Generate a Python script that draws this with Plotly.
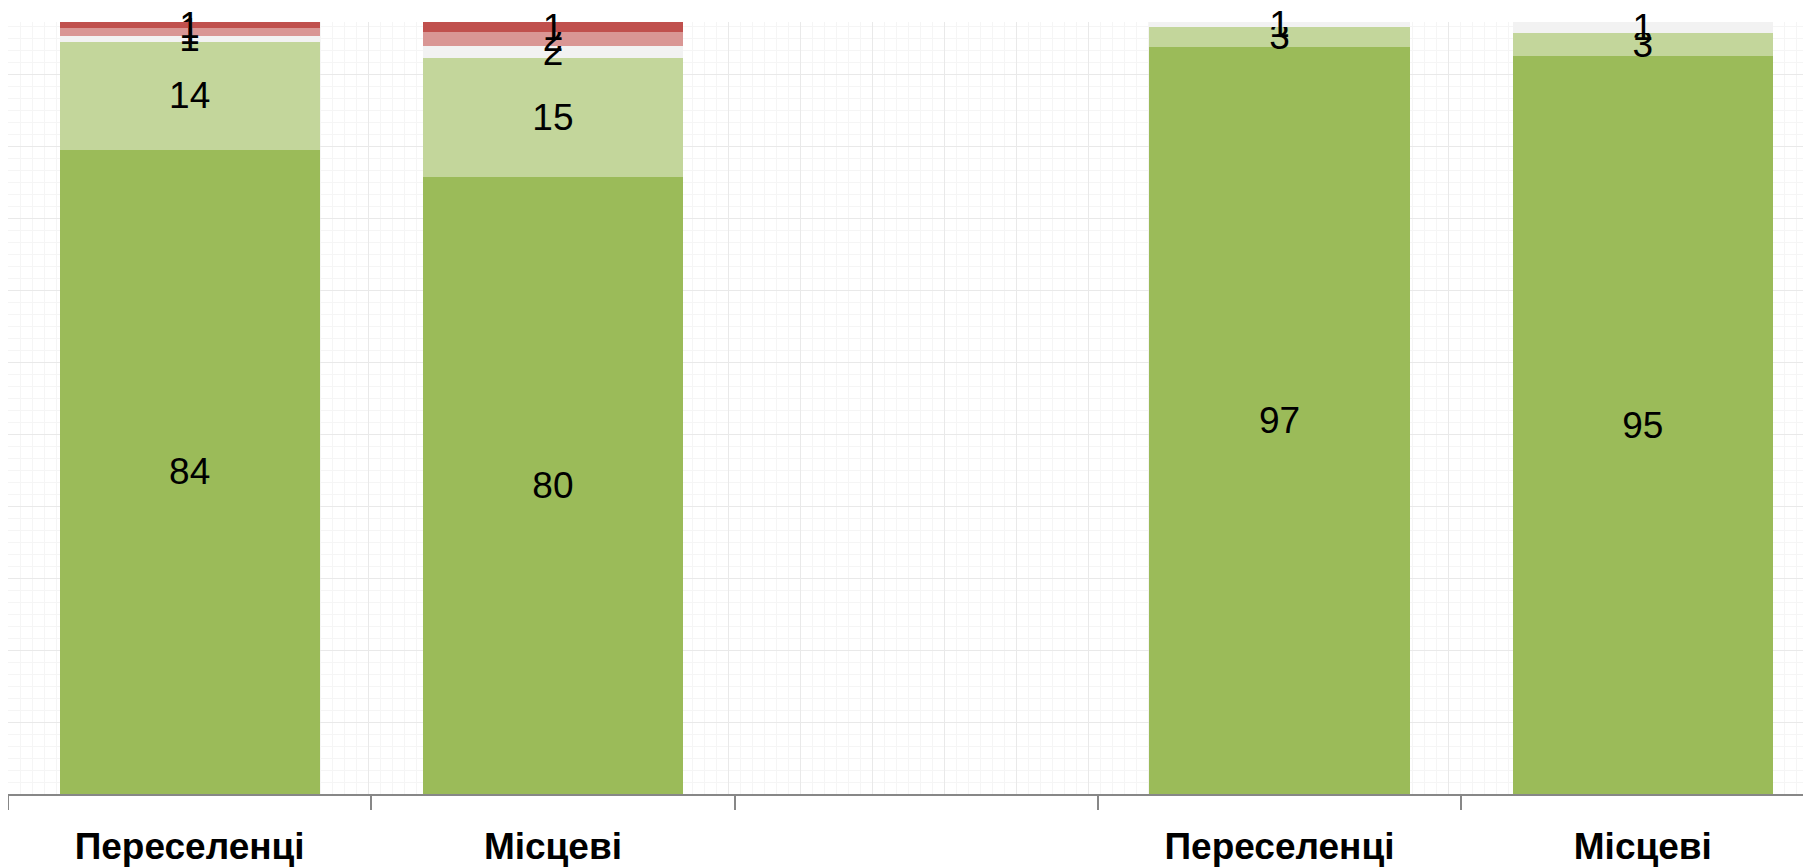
import plotly.graph_objects as go

# Categories (the empty one separates the two groups)
categories = ["Переселенці", "Місцеві", " ", "Переселенці\u200b", "Місцеві\u200b"]

# Stacked series, bottom to top (shown as 100% stacked; labels are rounded values)
series_names = ["Категорія 1", "Категорія 2", "Категорія 3", "Категорія 4", "Категорія 5"]
s1 = [84.2, 80.2, None, 96.6, 95.2]
s2 = [14.1, 15.4, None, 2.6, 3.0]
s3 = [0.8, 1.6, None, 0.6, 1.4]
s4 = [1.0, 1.8, None, None, None]
s5 = [0.8, 1.3, None, None, None]
series_values = [s1, s2, s3, s4, s5]
colors = ["#9BBB59", "#C3D69B", "#F2F2F2", "#D99694", "#C0504D"]

FONT = "Liberation Sans, Arial, sans-serif"

fig = go.Figure()
for name, vals, col in zip(series_names, series_values, colors):
    fig.add_trace(go.Bar(
        x=categories, y=vals, name=name,
        marker=dict(color=col, line=dict(width=0)),
        text=["" if v is None else f"{v:.0f}" for v in vals],
        textposition="inside", insidetextanchor="middle", textangle=0,
        constraintext="none", cliponaxis=False,
        textfont=dict(family=FONT, size=37, color="black"),
        hoverinfo="skip",
    ))

# background graph-paper texture via an overlay axis pair
fig.add_trace(go.Scatter(x=[None], y=[None], xaxis="x2", yaxis="y2",
                         showlegend=False, hoverinfo="skip"))

fig.update_layout(
    width=1811, height=868,
    margin=dict(l=0, r=8, t=14, b=82),
    barmode="stack", barnorm="percent", bargap=0.284,
    showlegend=False,
    paper_bgcolor="white", plot_bgcolor="white",
    uniformtext=dict(minsize=37, mode="show"),
    xaxis=dict(
        type="category", categoryorder="array", categoryarray=categories,
        range=[-0.5, 4.463],
        showline=True, linecolor="#878787", linewidth=2,
        ticks="outside", tickson="boundaries", ticklen=14, tickwidth=2,
        tickcolor="#878787",
        tickfont=dict(family=FONT, size=37, color="black", weight="bold"),
        ticklabelstandoff=19,
        showgrid=False, zeroline=False,
    ),
    yaxis=dict(range=[0, 100], visible=False, showgrid=False, zeroline=False),
    xaxis2=dict(overlaying="x", range=[0, 1803], dtick=72, tick0=0,
                showgrid=True, gridcolor="#e9e9e9", gridwidth=1,
                minor=dict(dtick=12, showgrid=True, gridcolor="#f5f5f5"),
                showticklabels=False, ticks="", zeroline=False, showline=False),
    yaxis2=dict(overlaying="y", range=[0, 772], dtick=72, tick0=0,
                showgrid=True, gridcolor="#e9e9e9", gridwidth=1,
                minor=dict(dtick=12, showgrid=True, gridcolor="#f5f5f5"),
                showticklabels=False, ticks="", zeroline=False, showline=False),
)

fig.write_html("out.html")
